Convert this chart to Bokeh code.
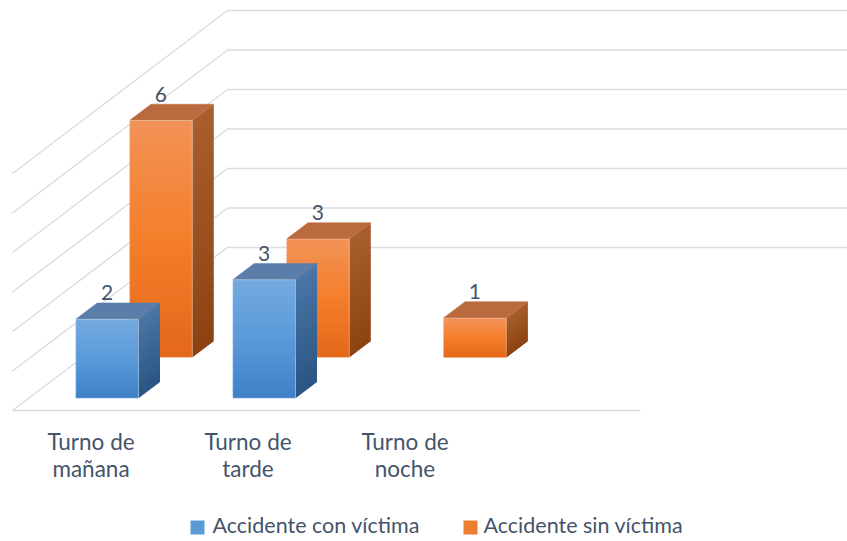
import numpy as np
from bokeh.plotting import figure
from bokeh.models import Range1d
from bokeh.core.properties import value
from bokeh.embed import file_html
from bokeh.resources import INLINE

# ---------------- data ----------------
categories = ["Turno de\nmañana", "Turno de\ntarde", "Turno de\nnoche"]
series_names = ["Accidente con víctima", "Accidente sin víctima"]
con_victima = [2, 3, 0]
sin_victima = [6, 3, 1]
value_ticks = [0, 1, 2, 3, 4, 5, 6]

# ---------------- layout / style ----------------
W, H = 847, 541
ORIGIN_X, ORIGIN_Y = 12, 410  # front-left corner of floor (px)
CAT_W = 157                  # width of one category slot
N_SLOTS = 4                  # category slots on the floor
UNIT = 39.5                  # px per value unit
DX, DY = 215, -163           # depth vector of the whole floor
ROW = 0.25                   # depth fraction per series row
BAR_W = 0.4
BAR_D = 0.4
FONT = "Lato"
TXT = "#44546A"
GRID = "#d9dce2"
BFIX = 8                     # baseline correction for svg text

SERIES = [
    dict(vals=con_victima, name=series_names[0],
         front=["#74aadf", "#5a9ada", "#3f80c6"],
         side=["#4a77a8", "#2a5483"], top="#5a7da9", legend="#5b9bd5"),
    dict(vals=sin_victima, name=series_names[1],
         front=["#f39358", "#f47e2b", "#e3681a"],
         side=["#a85e2d", "#8c4311"], top="#b96a3e", legend="#ed7d31"),
]


def proj(cx, v, z):
    x = ORIGIN_X + cx * CAT_W + z * DX
    y = ORIGIN_Y - v * UNIT + z * DY
    return x, y


def hex2rgb(h):
    h = h.lstrip("#")
    return np.array([int(h[i:i + 2], 16) for i in (0, 2, 4)], float)


def mix(c1, c2, t):
    a, b = hex2rgb(c1), hex2rgb(c2)
    c = a + (b - a) * t
    return "#%02x%02x%02x" % tuple(int(round(x)) for x in c)


def grad3(stops, t):
    if t <= 0.5:
        return mix(stops[0], stops[1], t / 0.5)
    return mix(stops[1], stops[2], (t - 0.5) / 0.5)


p = figure(width=W, height=H, x_range=Range1d(0, W), y_range=Range1d(H, 0),
           output_backend="svg", toolbar_location=None, min_border=0,
           x_axis_location=None, y_axis_location=None)
p.grid.visible = False
p.outline_line_color = None
p.background_fill_color = "white"
p.border_fill_color = "white"

# ---------------- walls / gridlines ----------------
gx, gy = [], []
for t in value_ticks:
    a = proj(0, t, 0)
    b = proj(0, t, 1)
    c = proj(N_SLOTS, t, 1)
    gx.append([a[0], b[0], c[0]])
    gy.append([a[1], b[1], c[1]])
p.multi_line(gx, gy, line_color=GRID, line_width=1.4)
f0 = proj(0, 0, 0)
f1 = proj(N_SLOTS, 0, 0)
p.line([f0[0], f1[0]], [f0[1], f1[1]], line_color=GRID, line_width=1.6)

# ---------------- bars ----------------
NS = 30
OVL = 1.2 / UNIT   # slice overlap (value units) to hide seams
for s in [1, 0]:
    S = SERIES[s]
    z0 = s * ROW + ROW * (1 - BAR_D) / 2
    z1 = z0 + ROW * BAR_D
    for i, v in enumerate(S["vals"]):
        if v <= 0:
            continue
        cx0 = i + (1 - BAR_W) / 2
        cx1 = cx0 + BAR_W
        # side face (gradient slices)
        sxs, sys, scol = [], [], []
        for k in range(NS):
            va = v * (1 - k / NS)
            vb = max(v * (1 - (k + 1) / NS) - OVL, 0)
            pts = [proj(cx1, va, z0), proj(cx1, va, z1), proj(cx1, vb, z1), proj(cx1, vb, z0)]
            sxs.append([q[0] for q in pts])
            sys.append([q[1] for q in pts])
            scol.append(mix(S["side"][0], S["side"][1], (k + 0.5) / NS))
        p.patches(sxs, sys, fill_color=scol, line_color=None)
        # top face
        pts = [proj(cx0, v, z0), proj(cx1, v, z0), proj(cx1, v, z1), proj(cx0, v, z1)]
        p.patch([q[0] for q in pts], [q[1] for q in pts], fill_color=S["top"],
                line_color=S["top"], line_width=0.5)
        # front face (gradient slices)
        left, right, tops, bots, fcol = [], [], [], [], []
        for k in range(NS):
            va = v * (1 - k / NS)
            vb = max(v * (1 - (k + 1) / NS) - OVL, 0)
            a = proj(cx0, va, z0)
            b = proj(cx1, vb, z0)
            left.append(a[0]); right.append(b[0]); tops.append(a[1]); bots.append(b[1])
            fcol.append(grad3(S["front"], (k + 0.5) / NS))
        p.quad(left=left, right=right, top=tops, bottom=bots, fill_color=fcol,
               line_color=None)
        # thin light outline
        a = proj(cx0, v, z0)
        b = proj(cx1, 0, z0)
        p.quad(left=[a[0]], right=[b[0]], top=[a[1]], bottom=[b[1]], fill_alpha=0,
               line_color="white", line_alpha=0.3, line_width=1)
        # data label
        lx = (proj(cx0, v, z0)[0] + proj(cx1, v, z0)[0]) / 2
        ly = proj(cx0, v, z1)[1] - 2 - BFIX
        p.text([lx], [ly], text=[str(v)], text_align="center", text_baseline="alphabetic",
               text_font=value(FONT), text_font_size="21px", text_color=TXT)

# ---------------- category labels (two lines each) ----------------
LINE1_DY, LINE2_DY = 39, 66   # baselines below floor front edge
for i, cat in enumerate(categories):
    lines = cat.split("\n")
    x0, y0 = proj(i + 0.5, 0, 0)
    ys = [y0 + LINE1_DY - BFIX, y0 + LINE2_DY - BFIX]
    p.text([x0] * len(lines), ys[:len(lines)], text=lines, text_align="center",
           text_baseline="alphabetic", text_font=value(FONT),
           text_font_size="22.5px", text_color=TXT)

# ---------------- legend ----------------
leg_base = 532 - BFIX
leg_sq_x = [197, 470]
leg_sq_y = 527
leg_tx_x = [212, 483]
for k, S in enumerate(SERIES):
    p.scatter([leg_sq_x[k]], [leg_sq_y], marker="square", size=14,
              fill_color=S["legend"], line_color=None)
    p.text([leg_tx_x[k]], [leg_base], text=[S["name"]], text_align="left",
           text_baseline="alphabetic", text_font=value(FONT), text_font_size="21.5px",
           text_color=TXT)

open("out.html", "w").write(file_html(p, INLINE))
